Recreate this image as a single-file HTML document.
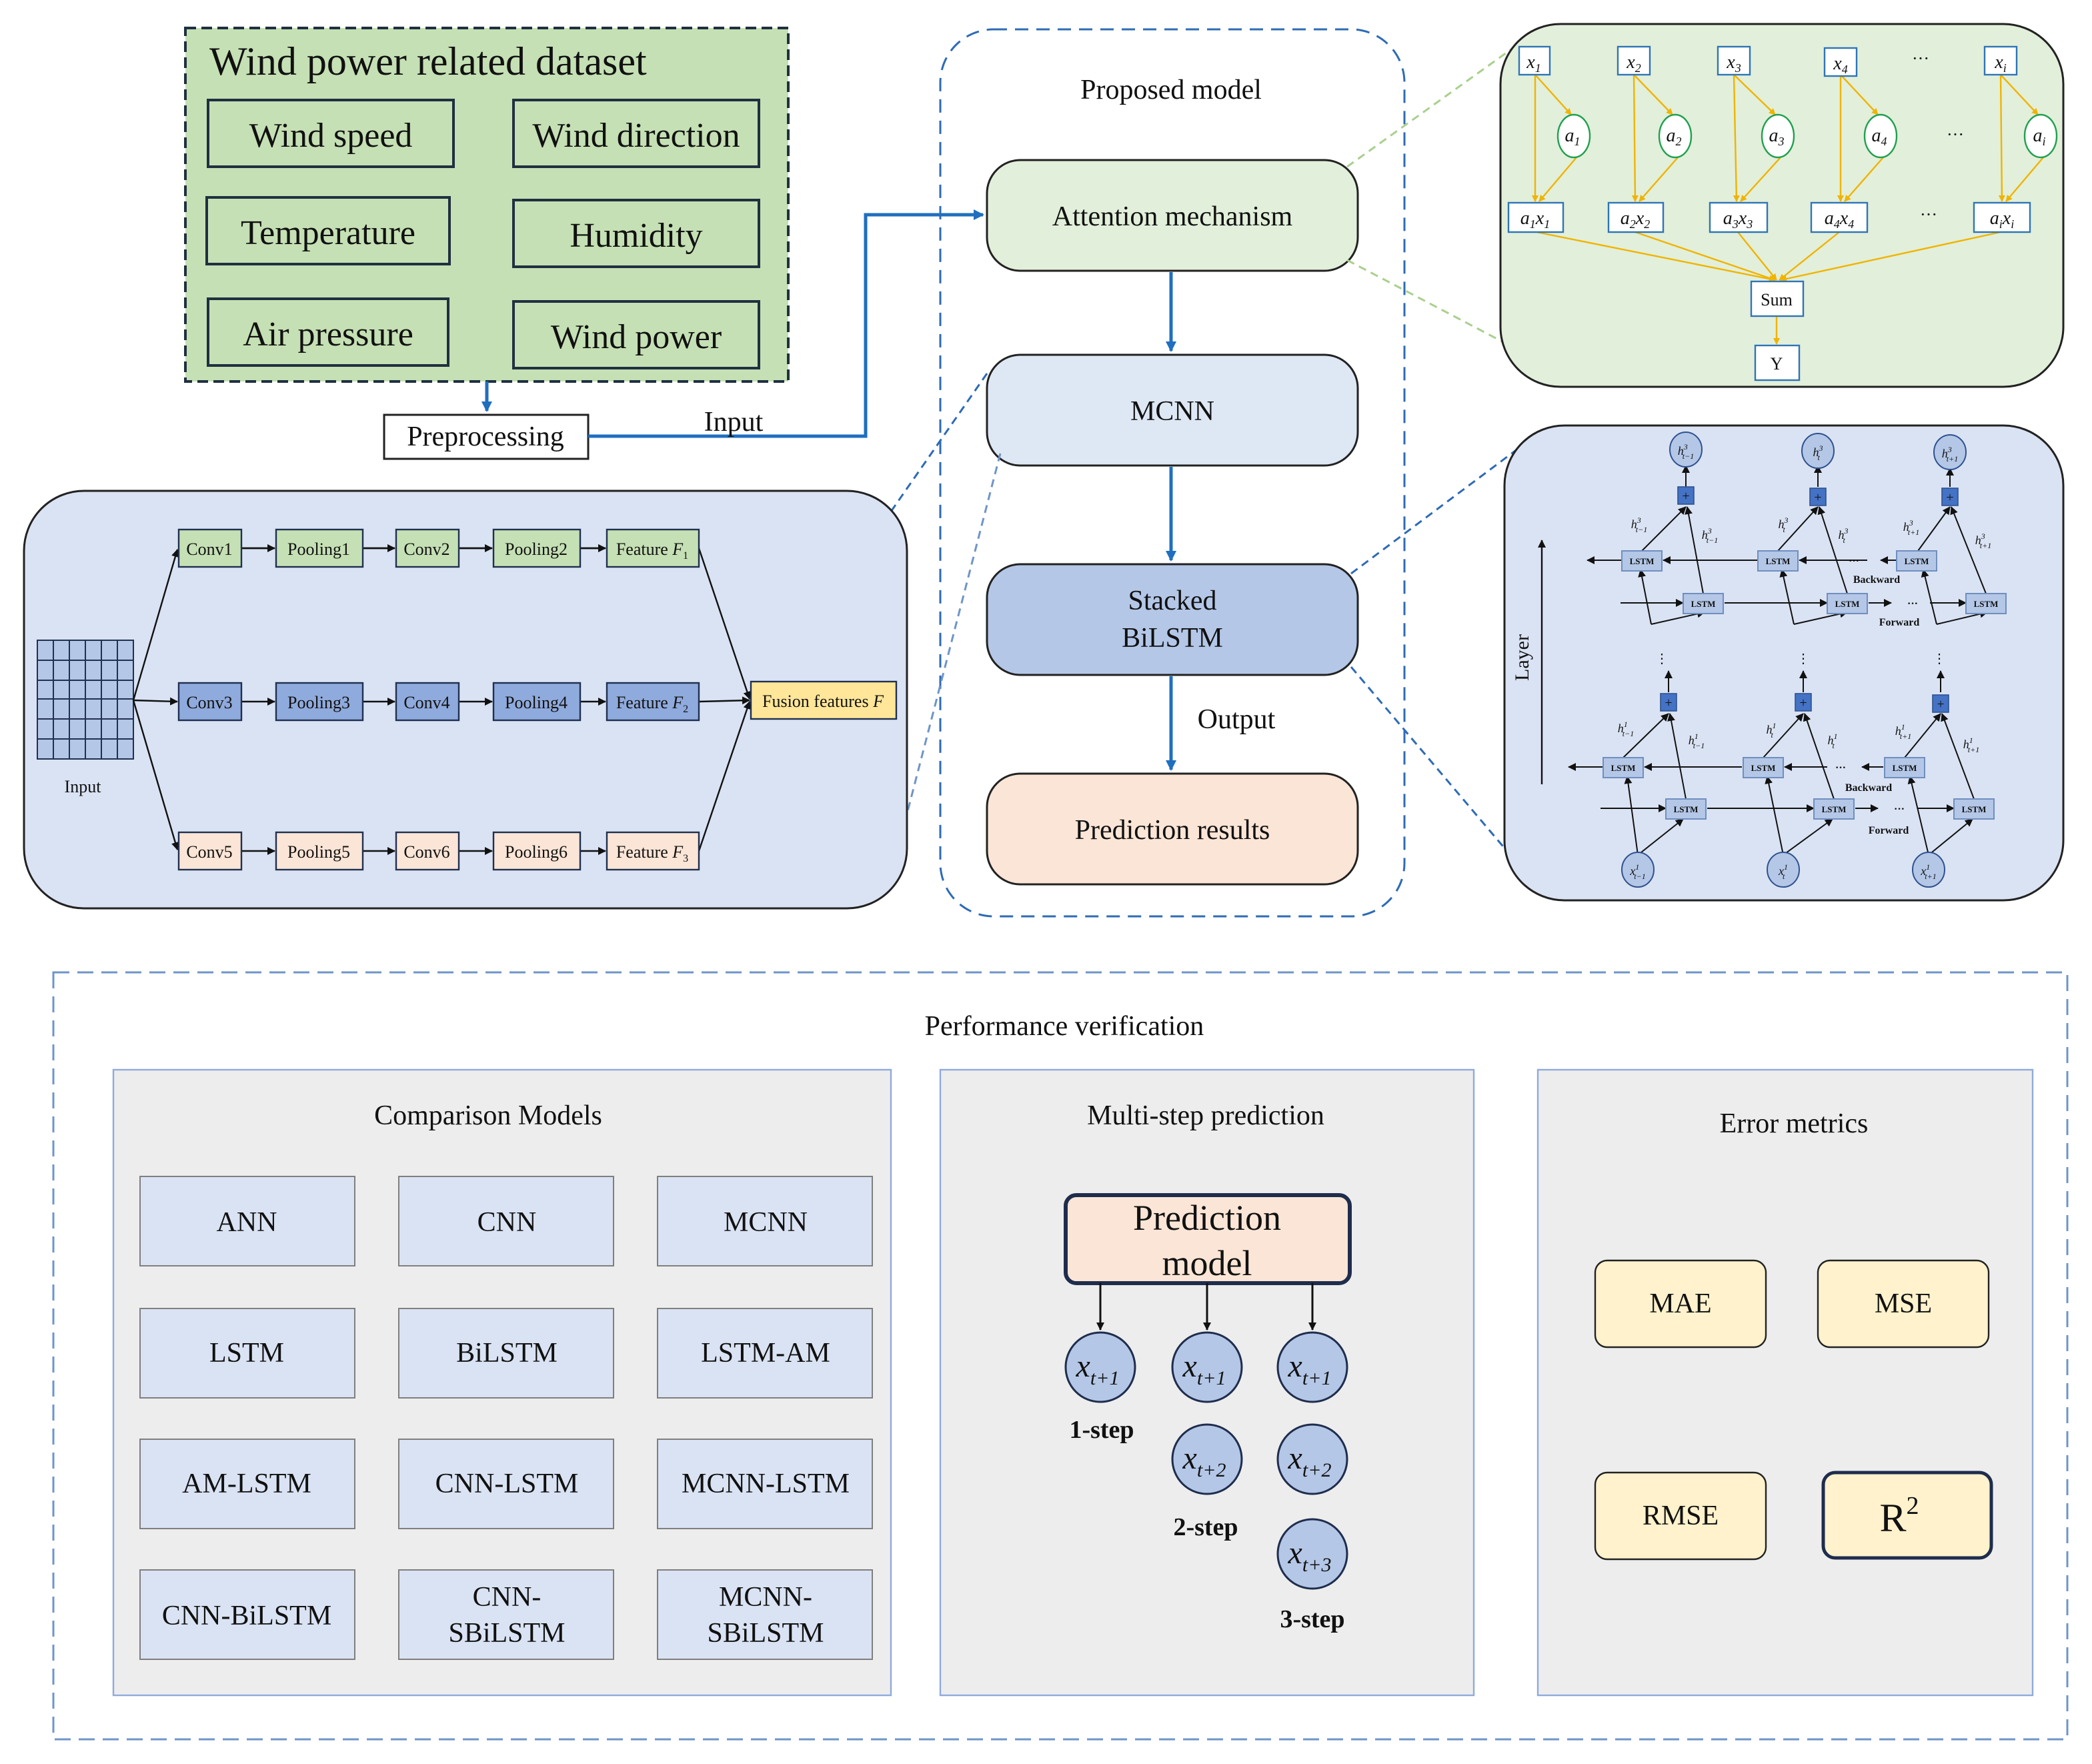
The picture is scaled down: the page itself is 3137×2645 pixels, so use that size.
<!DOCTYPE html>
<html><head><meta charset="utf-8"><style>
html,body{margin:0;padding:0;background:#fff}
svg{display:block}
text{font-family:"Liberation Serif",serif;fill:#111}
.it{font-style:italic}
</style></head><body>
<svg width="3137" height="2645" viewBox="0 0 1568.5 1322.5" xmlns="http://www.w3.org/2000/svg">
<defs>
<marker id="ab" markerWidth="8" markerHeight="8" refX="7" refY="4" orient="auto" markerUnits="userSpaceOnUse"><path d="M0,0 L8,4 L0,8 z" fill="#1f6fbf"/></marker>
<marker id="ak" markerWidth="6" markerHeight="6" refX="5.5" refY="3" orient="auto" markerUnits="userSpaceOnUse"><path d="M0,0 L6,3 L0,6 z" fill="#111"/></marker>
<marker id="ao" markerWidth="5" markerHeight="5" refX="4.5" refY="2.5" orient="auto" markerUnits="userSpaceOnUse"><path d="M0,0 L5,2.5 L0,5 z" fill="#f0b400"/></marker>
</defs>
<rect width="1568.5" height="1322.5" fill="#fff"/>

<!-- Dataset -->
<rect x="139" y="21" width="452" height="265" fill="#c5e0b4" stroke="#203040" stroke-width="2" stroke-dasharray="8,4"/>
<text x="157" y="56" font-size="30">Wind power related dataset</text>
<g fill="#c5e0b4" stroke="#203040" stroke-width="2">
<rect x="156" y="75" width="184" height="50"/><rect x="385" y="75" width="184" height="50"/>
<rect x="155" y="148" width="182" height="50"/><rect x="385" y="150" width="184" height="50"/>
<rect x="156" y="224" width="180" height="50"/><rect x="385" y="226" width="184" height="50"/>
</g>
<g font-size="26" text-anchor="middle">
<text x="248" y="110">Wind speed</text><text x="477" y="110">Wind direction</text>
<text x="246" y="183">Temperature</text><text x="477" y="185">Humidity</text>
<text x="246" y="259">Air pressure</text><text x="477" y="261">Wind power</text>
</g>
<line x1="365" y1="286" x2="365" y2="308" stroke="#1f6fbf" stroke-width="2.5" marker-end="url(#ab)"/>
<rect x="288" y="311" width="153" height="33" fill="#fff" stroke="#222" stroke-width="1.5"/>
<text x="364" y="334" font-size="21" text-anchor="middle">Preprocessing</text>
<polyline points="441,327 649,327 649,161 737,161" fill="none" stroke="#1f6fbf" stroke-width="2.5" marker-end="url(#ab)"/>
<text x="550" y="323" font-size="21" text-anchor="middle">Input</text>

<!-- Proposed model -->
<rect x="705" y="22" width="348" height="665" rx="40" fill="none" stroke="#2e6bb5" stroke-width="1.5" stroke-dasharray="10,6"/>
<text x="878" y="74" font-size="21" text-anchor="middle">Proposed model</text>
<rect x="740" y="120" width="278" height="83" rx="25" fill="#e2efda" stroke="#222" stroke-width="1.5"/>
<text x="879" y="169" font-size="21" text-anchor="middle">Attention mechanism</text>
<rect x="740" y="266" width="278" height="83" rx="25" fill="#dee8f4" stroke="#222" stroke-width="1.5"/>
<text x="879" y="315" font-size="21" text-anchor="middle">MCNN</text>
<rect x="740" y="423" width="278" height="83" rx="25" fill="#b4c7e7" stroke="#222" stroke-width="1.5"/>
<text x="879" y="457" font-size="21" text-anchor="middle">Stacked</text>
<text x="879" y="485" font-size="21" text-anchor="middle">BiLSTM</text>
<rect x="740" y="580" width="278" height="83" rx="25" fill="#fbe5d6" stroke="#222" stroke-width="1.5"/>
<text x="879" y="629" font-size="21" text-anchor="middle">Prediction results</text>
<g stroke="#1f6fbf" stroke-width="2.5">
<line x1="878" y1="204" x2="878" y2="263" marker-end="url(#ab)"/>
<line x1="878" y1="350" x2="878" y2="420" marker-end="url(#ab)"/>
<line x1="878" y1="507" x2="878" y2="577" marker-end="url(#ab)"/>
</g>
<text x="927" y="546" font-size="21" text-anchor="middle">Output</text>

<!-- dashed connectors -->
<g fill="none" stroke-width="1.5" stroke-dasharray="6,4">
<line x1="1010" y1="125" x2="1140" y2="32" stroke="#a9d08e"/>
<line x1="1010" y1="195" x2="1130" y2="258" stroke="#a9d08e"/>
<line x1="1013" y1="430" x2="1140" y2="335" stroke="#2e6bb5"/>
<line x1="1013" y1="500" x2="1140" y2="650" stroke="#2e6bb5"/>
<line x1="740" y1="280" x2="660" y2="395" stroke="#2e6bb5"/>
<line x1="750" y1="340" x2="665" y2="668" stroke="#6f95c8"/>
</g>

<!-- Attention panel -->
<rect x="1125" y="18" width="422" height="272" rx="45" fill="#e2efda" stroke="#222" stroke-width="1.5"/>
<g stroke="#f0b400" stroke-width="1.2" fill="none">
<g id="col">
</g>
<line x1="1151" y1="56" x2="1151" y2="151" marker-end="url(#ao)"/><line x1="1151" y1="56" x2="1178" y2="86" marker-end="url(#ao)"/><line x1="1182" y1="118" x2="1154" y2="151" marker-end="url(#ao)"/>
<line x1="1225" y1="56" x2="1226" y2="151" marker-end="url(#ao)"/><line x1="1225" y1="56" x2="1254" y2="86" marker-end="url(#ao)"/><line x1="1258" y1="118" x2="1229" y2="151" marker-end="url(#ao)"/>
<line x1="1300" y1="56" x2="1302" y2="151" marker-end="url(#ao)"/><line x1="1300" y1="56" x2="1331" y2="86" marker-end="url(#ao)"/><line x1="1335" y1="118" x2="1305" y2="151" marker-end="url(#ao)"/>
<line x1="1380" y1="56" x2="1380" y2="151" marker-end="url(#ao)"/><line x1="1380" y1="56" x2="1408" y2="86" marker-end="url(#ao)"/><line x1="1412" y1="118" x2="1383" y2="151" marker-end="url(#ao)"/>
<line x1="1500" y1="56" x2="1501" y2="151" marker-end="url(#ao)"/><line x1="1500" y1="56" x2="1528" y2="86" marker-end="url(#ao)"/><line x1="1532" y1="118" x2="1504" y2="151" marker-end="url(#ao)"/>
<line x1="1152" y1="174" x2="1331" y2="210" marker-end="url(#ao)"/>
<line x1="1226" y1="174" x2="1331" y2="210" marker-end="url(#ao)"/>
<line x1="1303" y1="174" x2="1332" y2="210" marker-end="url(#ao)"/>
<line x1="1379" y1="174" x2="1334" y2="210" marker-end="url(#ao)"/>
<line x1="1500" y1="174" x2="1335" y2="210" marker-end="url(#ao)"/>
<line x1="1332" y1="237" x2="1332" y2="258" marker-end="url(#ao)"/>
</g>
<g fill="#fff" stroke="#2e75b6" stroke-width="1.2">
<rect x="1139" y="35" width="23" height="21"/><rect x="1213" y="35" width="24" height="21"/><rect x="1288" y="35" width="24" height="21"/><rect x="1368" y="36" width="24" height="21"/><rect x="1488" y="35" width="24" height="21"/>
<rect x="1131" y="152" width="41" height="22"/><rect x="1206" y="152" width="41" height="22"/><rect x="1282" y="152" width="43" height="22"/><rect x="1358" y="152" width="42" height="22"/><rect x="1480" y="152" width="42" height="22"/>
<rect x="1313" y="211" width="39" height="26"/><rect x="1316" y="259" width="33" height="26"/>
</g>
<g fill="#fff" stroke="#22a050" stroke-width="1.2">
<ellipse cx="1180" cy="102" rx="12" ry="16"/><ellipse cx="1256" cy="102" rx="12" ry="16"/><ellipse cx="1333" cy="102" rx="12" ry="16"/><ellipse cx="1410" cy="102" rx="12" ry="16"/><ellipse cx="1530" cy="102" rx="12" ry="16"/>
</g>
<g font-size="14" class="it" text-anchor="middle" fill="#2e75b6">
<text x="1150" y="51" fill="#2e75b6">x<tspan font-size="9" dy="3">1</tspan></text>
<text x="1225" y="51" fill="#2e75b6">x<tspan font-size="9" dy="3">2</tspan></text>
<text x="1300" y="51" fill="#2e75b6">x<tspan font-size="9" dy="3">3</tspan></text>
<text x="1380" y="52" fill="#2e75b6">x<tspan font-size="9" dy="3">4</tspan></text>
<text x="1500" y="51" fill="#2e75b6">x<tspan font-size="9" dy="3">i</tspan></text>
<text x="1151" y="168" fill="#2e75b6">a<tspan font-size="9" dy="3">1</tspan><tspan dy="-3">x</tspan><tspan font-size="9" dy="3">1</tspan></text>
<text x="1226" y="168" fill="#2e75b6">a<tspan font-size="9" dy="3">2</tspan><tspan dy="-3">x</tspan><tspan font-size="9" dy="3">2</tspan></text>
<text x="1303" y="168" fill="#2e75b6">a<tspan font-size="9" dy="3">3</tspan><tspan dy="-3">x</tspan><tspan font-size="9" dy="3">3</tspan></text>
<text x="1379" y="168" fill="#2e75b6">a<tspan font-size="9" dy="3">4</tspan><tspan dy="-3">x</tspan><tspan font-size="9" dy="3">4</tspan></text>
<text x="1501" y="168" fill="#2e75b6">a<tspan font-size="9" dy="3">i</tspan><tspan dy="-3">x</tspan><tspan font-size="9" dy="3">i</tspan></text>
<text x="1179" y="106" fill="#22a050">a<tspan font-size="9" dy="3">1</tspan></text>
<text x="1255" y="106" fill="#22a050">a<tspan font-size="9" dy="3">2</tspan></text>
<text x="1332" y="106" fill="#22a050">a<tspan font-size="9" dy="3">3</tspan></text>
<text x="1409" y="106" fill="#22a050">a<tspan font-size="9" dy="3">4</tspan></text>
<text x="1529" y="106" fill="#22a050">a<tspan font-size="9" dy="3">i</tspan></text>
</g>
<g font-size="13" text-anchor="middle">
<text x="1332" y="229" fill="#2e75b6">Sum</text><text x="1332" y="277" fill="#2e75b6">Y</text>
<text x="1440" y="48" fill="#2e75b6">···</text><text x="1466" y="105" fill="#2e75b6">···</text><text x="1446" y="165" fill="#2e75b6">···</text>
</g>

<!-- BiLSTM panel -->
<rect x="1128" y="319" width="419" height="356" rx="45" fill="#dae3f3" stroke="#222" stroke-width="1.5"/>
<line x1="1156" y1="588" x2="1156" y2="405" stroke="#111" stroke-width="1.2" marker-end="url(#ak)"/>
<text x="1146" y="493" font-size="15" text-anchor="middle" transform="rotate(-90 1146 493)">Layer</text>
<g stroke="#111" stroke-width="1" fill="none">
<!-- upper backward row -->
<line x1="1216" y1="420" x2="1190" y2="420" marker-end="url(#ak)"/>
<line x1="1318" y1="420" x2="1247" y2="420" marker-end="url(#ak)"/>
<line x1="1400" y1="420" x2="1349" y2="420" marker-end="url(#ak)"/>
<line x1="1422" y1="420" x2="1410" y2="420" marker-end="url(#ak)"/>
<line x1="1215" y1="452" x2="1262" y2="452" marker-end="url(#ak)"/>
<line x1="1293" y1="452" x2="1370" y2="452" marker-end="url(#ak)"/>
<line x1="1401" y1="452" x2="1418" y2="452" marker-end="url(#ak)"/>
<line x1="1447" y1="452" x2="1474" y2="452" marker-end="url(#ak)"/>
<!-- lower rows -->
<line x1="1202" y1="575" x2="1176" y2="575" marker-end="url(#ak)"/>
<line x1="1306" y1="575" x2="1233" y2="575" marker-end="url(#ak)"/>
<line x1="1370" y1="575" x2="1338" y2="575" marker-end="url(#ak)"/>
<line x1="1412" y1="575" x2="1396" y2="575" marker-end="url(#ak)"/>
<line x1="1200" y1="606" x2="1249" y2="606" marker-end="url(#ak)"/>
<line x1="1280" y1="606" x2="1360" y2="606" marker-end="url(#ak)"/>
<line x1="1391" y1="606" x2="1408" y2="606" marker-end="url(#ak)"/>
<line x1="1438" y1="606" x2="1465" y2="606" marker-end="url(#ak)"/>
<!-- column connections -->
<g id="cols">
<line x1="1231" y1="413" x2="1264" y2="380" marker-end="url(#ak)"/><line x1="1277" y1="445" x2="1265" y2="380" marker-end="url(#ak)"/>
<line x1="1333" y1="413" x2="1363" y2="380" marker-end="url(#ak)"/><line x1="1385" y1="445" x2="1364" y2="380" marker-end="url(#ak)"/>
<line x1="1438" y1="413" x2="1462" y2="380" marker-end="url(#ak)"/><line x1="1489" y1="445" x2="1463" y2="380" marker-end="url(#ak)"/>
<line x1="1264" y1="365" x2="1264" y2="349" marker-end="url(#ak)"/><line x1="1363" y1="365" x2="1363" y2="349" marker-end="url(#ak)"/><line x1="1462" y1="365" x2="1462" y2="351" marker-end="url(#ak)"/>
<polyline points="1238,468 1230,427" marker-end="url(#ak)"/><line x1="1238" y1="468" x2="1278" y2="459" marker-end="url(#ak)"/>
<polyline points="1345,468 1336,427" marker-end="url(#ak)"/><line x1="1345" y1="468" x2="1385" y2="459" marker-end="url(#ak)"/>
<polyline points="1452,468 1442,427" marker-end="url(#ak)"/><line x1="1452" y1="468" x2="1490" y2="459" marker-end="url(#ak)"/>
<line x1="1217" y1="568" x2="1251" y2="535" marker-end="url(#ak)"/><line x1="1264" y1="599" x2="1252" y2="535" marker-end="url(#ak)"/>
<line x1="1322" y1="568" x2="1352" y2="535" marker-end="url(#ak)"/><line x1="1375" y1="599" x2="1353" y2="535" marker-end="url(#ak)"/>
<line x1="1428" y1="568" x2="1455" y2="535" marker-end="url(#ak)"/><line x1="1480" y1="599" x2="1456" y2="535" marker-end="url(#ak)"/>
<line x1="1251" y1="519" x2="1251" y2="503" marker-end="url(#ak)"/><line x1="1352" y1="519" x2="1352" y2="503" marker-end="url(#ak)"/><line x1="1455" y1="519" x2="1455" y2="503" marker-end="url(#ak)"/>
<line x1="1228" y1="641" x2="1220" y2="582" marker-end="url(#ak)"/><line x1="1228" y1="641" x2="1262" y2="614" marker-end="url(#ak)"/>
<line x1="1337" y1="641" x2="1325" y2="582" marker-end="url(#ak)"/><line x1="1337" y1="641" x2="1374" y2="614" marker-end="url(#ak)"/>
<line x1="1446" y1="641" x2="1432" y2="582" marker-end="url(#ak)"/><line x1="1446" y1="641" x2="1479" y2="614" marker-end="url(#ak)"/>
</g>
</g>
<g fill="#b4c7e7" stroke="#6f8fbf" stroke-width="1">
<rect x="1216" y="413" width="30" height="15"/><rect x="1318" y="413" width="30" height="15"/><rect x="1422" y="413" width="30" height="15"/>
<rect x="1262" y="445" width="30" height="15"/><rect x="1370" y="445" width="30" height="15"/><rect x="1474" y="445" width="30" height="15"/>
<rect x="1202" y="568" width="30" height="15"/><rect x="1307" y="568" width="30" height="15"/><rect x="1413" y="568" width="30" height="15"/>
<rect x="1249" y="599" width="30" height="15"/><rect x="1360" y="599" width="30" height="15"/><rect x="1465" y="599" width="30" height="15"/>
</g>
<g font-size="6.5" font-weight="bold" text-anchor="middle">
<text x="1231" y="423">LSTM</text><text x="1333" y="423">LSTM</text><text x="1437" y="423">LSTM</text>
<text x="1277" y="455">LSTM</text><text x="1385" y="455">LSTM</text><text x="1489" y="455">LSTM</text>
<text x="1217" y="578">LSTM</text><text x="1322" y="578">LSTM</text><text x="1428" y="578">LSTM</text>
<text x="1264" y="609">LSTM</text><text x="1375" y="609">LSTM</text><text x="1480" y="609">LSTM</text>
</g>
<g fill="#4472c4" stroke="#2f528f" stroke-width="0.8">
<rect x="1258" y="365" width="12" height="13"/><rect x="1357" y="366" width="12" height="13"/><rect x="1456" y="366" width="12" height="13"/>
<rect x="1245" y="520" width="12" height="13"/><rect x="1346" y="520" width="12" height="13"/><rect x="1449" y="521" width="12" height="13"/>
</g>
<g font-size="10" fill="#fff" text-anchor="middle">
<text x="1264" y="375" fill="#fff">+</text><text x="1363" y="376" fill="#fff">+</text><text x="1462" y="376" fill="#fff">+</text>
<text x="1251" y="530" fill="#fff">+</text><text x="1352" y="530" fill="#fff">+</text><text x="1455" y="531" fill="#fff">+</text>
</g>
<g fill="#b4c7e7" stroke="#2f528f" stroke-width="1">
<ellipse cx="1264" cy="337" rx="12" ry="13"/><ellipse cx="1363" cy="338" rx="12" ry="13"/><ellipse cx="1462" cy="339" rx="12" ry="13"/>
<ellipse cx="1228" cy="652" rx="12" ry="13"/><ellipse cx="1337" cy="652" rx="12" ry="13"/><ellipse cx="1446" cy="652" rx="12" ry="13"/>
</g>
<g font-size="9" class="it" text-anchor="middle">
<text x="1264" y="341">h<tspan font-size="6" dy="-4">3</tspan><tspan font-size="6" dx="-4" dy="7">t−1</tspan></text>
<text x="1363" y="342">h<tspan font-size="6" dy="-4">3</tspan><tspan font-size="6" dx="-4" dy="7">t</tspan></text>
<text x="1462" y="343">h<tspan font-size="6" dy="-4">3</tspan><tspan font-size="6" dx="-4" dy="7">t+1</tspan></text>
<text x="1228" y="656">x<tspan font-size="6" dy="-4">1</tspan><tspan font-size="6" dx="-4" dy="7">t−1</tspan></text>
<text x="1337" y="656">x<tspan font-size="6" dy="-4">1</tspan><tspan font-size="6" dx="-4" dy="7">t</tspan></text>
<text x="1446" y="656">x<tspan font-size="6" dy="-4">1</tspan><tspan font-size="6" dx="-4" dy="7">t+1</tspan></text>
<text x="1229" y="396">h<tspan font-size="6" dy="-4">3</tspan><tspan font-size="6" dx="-4" dy="7">t−1</tspan></text>
<text x="1282" y="404">h<tspan font-size="6" dy="-4">3</tspan><tspan font-size="6" dx="-4" dy="7">t−1</tspan></text>
<text x="1337" y="396">h<tspan font-size="6" dy="-4">3</tspan><tspan font-size="6" dx="-4" dy="7">t</tspan></text>
<text x="1382" y="404">h<tspan font-size="6" dy="-4">3</tspan><tspan font-size="6" dx="-4" dy="7">t</tspan></text>
<text x="1433" y="398">h<tspan font-size="6" dy="-4">3</tspan><tspan font-size="6" dx="-4" dy="7">t+1</tspan></text>
<text x="1487" y="408">h<tspan font-size="6" dy="-4">3</tspan><tspan font-size="6" dx="-4" dy="7">t+1</tspan></text>
<text x="1219" y="549">h<tspan font-size="6" dy="-4">1</tspan><tspan font-size="6" dx="-4" dy="7">t−1</tspan></text>
<text x="1272" y="558">h<tspan font-size="6" dy="-4">1</tspan><tspan font-size="6" dx="-4" dy="7">t−1</tspan></text>
<text x="1328" y="550">h<tspan font-size="6" dy="-4">1</tspan><tspan font-size="6" dx="-4" dy="7">t</tspan></text>
<text x="1374" y="558">h<tspan font-size="6" dy="-4">1</tspan><tspan font-size="6" dx="-4" dy="7">t</tspan></text>
<text x="1427" y="551">h<tspan font-size="6" dy="-4">1</tspan><tspan font-size="6" dx="-4" dy="7">t+1</tspan></text>
<text x="1478" y="561">h<tspan font-size="6" dy="-4">1</tspan><tspan font-size="6" dx="-4" dy="7">t+1</tspan></text>
</g>
<g font-size="8" font-weight="bold" text-anchor="middle">
<text x="1407" y="437">Backward</text><text x="1424" y="469">Forward</text>
<text x="1401" y="593">Backward</text><text x="1416" y="625">Forward</text>
<text x="1390" y="423">···</text><text x="1434" y="455">···</text><text x="1380" y="578">···</text><text x="1424" y="609">···</text>
</g>
<g font-size="10" text-anchor="middle"><text x="1246" y="497">⋮</text><text x="1352" y="497">⋮</text><text x="1454" y="497">⋮</text></g>

<!-- MCNN panel -->
<rect x="18" y="368" width="662" height="313" rx="45" fill="#dae3f3" stroke="#222" stroke-width="1.5"/>
<g fill="#b4c7e7" stroke="#203050" stroke-width="1">
<rect x="28" y="480" width="72" height="89"/>
<path d="M40,480V569M52,480V569M64,480V569M76,480V569M88,480V569M28,495H100M28,510H100M28,524H100M28,539H100M28,554H100" fill="none"/>
</g>
<text x="62" y="594" font-size="13" text-anchor="middle">Input</text>
<g stroke="#111" stroke-width="1.2" fill="none">
<line x1="100" y1="525" x2="133" y2="412" marker-end="url(#ak)"/>
<line x1="100" y1="525" x2="133" y2="526" marker-end="url(#ak)"/>
<line x1="100" y1="525" x2="133" y2="637" marker-end="url(#ak)"/>
<line x1="524" y1="411" x2="562" y2="524" marker-end="url(#ak)"/>
<line x1="524" y1="526" x2="562" y2="525" marker-end="url(#ak)"/>
<line x1="524" y1="638" x2="562" y2="526" marker-end="url(#ak)"/>
<path d="M181,411H206M272,411H296M344,411H369M435,411H454" marker-end="url(#ak)"/>
<line x1="181" y1="411" x2="206" y2="411" marker-end="url(#ak)"/><line x1="272" y1="411" x2="296" y2="411" marker-end="url(#ak)"/><line x1="344" y1="411" x2="369" y2="411" marker-end="url(#ak)"/><line x1="435" y1="411" x2="454" y2="411" marker-end="url(#ak)"/>
<line x1="181" y1="526" x2="206" y2="526" marker-end="url(#ak)"/><line x1="272" y1="526" x2="296" y2="526" marker-end="url(#ak)"/><line x1="344" y1="526" x2="369" y2="526" marker-end="url(#ak)"/><line x1="435" y1="526" x2="454" y2="526" marker-end="url(#ak)"/>
<line x1="181" y1="638" x2="206" y2="638" marker-end="url(#ak)"/><line x1="272" y1="638" x2="296" y2="638" marker-end="url(#ak)"/><line x1="344" y1="638" x2="369" y2="638" marker-end="url(#ak)"/><line x1="435" y1="638" x2="454" y2="638" marker-end="url(#ak)"/>
</g>
<g stroke="#203050" stroke-width="1.2">
<g fill="#c5e0b4"><rect x="134" y="397" width="47" height="28"/><rect x="207" y="397" width="65" height="28"/><rect x="297" y="397" width="47" height="28"/><rect x="370" y="397" width="65" height="28"/><rect x="455" y="397" width="69" height="28"/></g>
<g fill="#8faadc"><rect x="134" y="512" width="47" height="28"/><rect x="207" y="512" width="65" height="28"/><rect x="297" y="512" width="47" height="28"/><rect x="370" y="512" width="65" height="28"/><rect x="455" y="512" width="69" height="28"/></g>
<g fill="#fbe5d6"><rect x="134" y="624" width="47" height="28"/><rect x="207" y="624" width="65" height="28"/><rect x="297" y="624" width="47" height="28"/><rect x="370" y="624" width="65" height="28"/><rect x="455" y="624" width="69" height="28"/></g>
<rect x="563" y="511" width="109" height="28" fill="#ffe699"/>
</g>
<g font-size="13" text-anchor="middle">
<text x="157" y="416">Conv1</text><text x="239" y="416">Pooling1</text><text x="320" y="416">Conv2</text><text x="402" y="416">Pooling2</text><text x="489" y="416">Feature <tspan class="it">F</tspan><tspan font-size="8" dy="3">1</tspan></text>
<text x="157" y="531">Conv3</text><text x="239" y="531">Pooling3</text><text x="320" y="531">Conv4</text><text x="402" y="531">Pooling4</text><text x="489" y="531">Feature <tspan class="it">F</tspan><tspan font-size="8" dy="3">2</tspan></text>
<text x="157" y="643">Conv5</text><text x="239" y="643">Pooling5</text><text x="320" y="643">Conv6</text><text x="402" y="643">Pooling6</text><text x="489" y="643">Feature <tspan class="it">F</tspan><tspan font-size="8" dy="3">3</tspan></text>
<text x="617" y="530">Fusion features <tspan class="it">F</tspan></text>
</g>

<!-- Performance verification -->
<rect x="40" y="729" width="1510" height="575" fill="none" stroke="#6f95c8" stroke-width="1.5" stroke-dasharray="12,6"/>
<text x="798" y="776" font-size="21" text-anchor="middle">Performance verification</text>
<g fill="#ededed" stroke="#8faadc" stroke-width="1.2">
<rect x="85" y="802" width="583" height="469"/><rect x="705" y="802" width="400" height="469"/><rect x="1153" y="802" width="371" height="469"/>
</g>
<text x="366" y="843" font-size="21" text-anchor="middle">Comparison Models</text>
<text x="904" y="843" font-size="21" text-anchor="middle">Multi-step prediction</text>
<text x="1345" y="849" font-size="21" text-anchor="middle">Error metrics</text>
<g fill="#dae3f3" stroke="#7f7f7f" stroke-width="1">
<rect x="105" y="882" width="161" height="67"/><rect x="299" y="882" width="161" height="67"/><rect x="493" y="882" width="161" height="67"/>
<rect x="105" y="981" width="161" height="67"/><rect x="299" y="981" width="161" height="67"/><rect x="493" y="981" width="161" height="67"/>
<rect x="105" y="1079" width="161" height="67"/><rect x="299" y="1079" width="161" height="67"/><rect x="493" y="1079" width="161" height="67"/>
<rect x="105" y="1177" width="161" height="67"/><rect x="299" y="1177" width="161" height="67"/><rect x="493" y="1177" width="161" height="67"/>
</g>
<g font-size="21" text-anchor="middle">
<text x="185" y="923">ANN</text><text x="380" y="923">CNN</text><text x="574" y="923">MCNN</text>
<text x="185" y="1021">LSTM</text><text x="380" y="1021">BiLSTM</text><text x="574" y="1021">LSTM-AM</text>
<text x="185" y="1119">AM-LSTM</text><text x="380" y="1119">CNN-LSTM</text><text x="574" y="1119">MCNN-LSTM</text>
<text x="185" y="1218">CNN-BiLSTM</text><text x="380" y="1204">CNN-</text><text x="380" y="1231">SBiLSTM</text><text x="574" y="1204">MCNN-</text><text x="574" y="1231">SBiLSTM</text>
</g>

<rect x="799" y="896" width="213" height="66" rx="8" fill="#fbe5d6" stroke="#1f2d4d" stroke-width="3"/>
<text x="905" y="922" font-size="27" text-anchor="middle">Prediction</text>
<text x="905" y="956" font-size="27" text-anchor="middle">model</text>
<g stroke="#111" stroke-width="1.5">
<line x1="825" y1="962" x2="825" y2="997" marker-end="url(#ak)"/>
<line x1="905" y1="962" x2="905" y2="997" marker-end="url(#ak)"/>
<line x1="984" y1="962" x2="984" y2="997" marker-end="url(#ak)"/>
</g>
<g fill="#b4c7e7" stroke="#1f2d4d" stroke-width="1.5">
<circle cx="825" cy="1025" r="26"/><circle cx="905" cy="1025" r="26"/><circle cx="984" cy="1025" r="26"/>
<circle cx="905" cy="1094" r="26"/><circle cx="984" cy="1094" r="26"/><circle cx="984" cy="1165" r="26"/>
</g>
<g font-size="24" class="it" text-anchor="middle">
<text x="823" y="1032">x<tspan font-size="15" dy="6">t+1</tspan></text>
<text x="903" y="1032">x<tspan font-size="15" dy="6">t+1</tspan></text>
<text x="982" y="1032">x<tspan font-size="15" dy="6">t+1</tspan></text>
<text x="903" y="1101">x<tspan font-size="15" dy="6">t+2</tspan></text>
<text x="982" y="1101">x<tspan font-size="15" dy="6">t+2</tspan></text>
<text x="982" y="1172">x<tspan font-size="15" dy="6">t+3</tspan></text>
</g>
<g font-size="19" font-weight="bold" text-anchor="middle">
<text x="826" y="1078">1-step</text><text x="904" y="1151">2-step</text><text x="984" y="1220">3-step</text>
</g>

<g fill="#fff2cc" stroke="#222" stroke-width="1.2">
<rect x="1196" y="945" width="128" height="65" rx="9"/><rect x="1363" y="945" width="128" height="65" rx="9"/>
<rect x="1196" y="1104" width="128" height="65" rx="9"/>
<rect x="1367" y="1104" width="126" height="64" rx="9" stroke="#1f2d4d" stroke-width="2.5"/>
</g>
<g font-size="21" text-anchor="middle">
<text x="1260" y="984">MAE</text><text x="1427" y="984">MSE</text><text x="1260" y="1143">RMSE</text>
<text x="1424" y="1148" font-size="30">R<tspan font-size="19" dy="-13">2</tspan></text>
</g>
</svg>
</body></html>
